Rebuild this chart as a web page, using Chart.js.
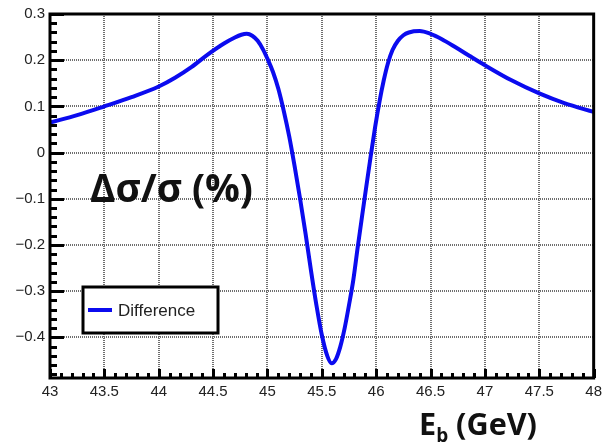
<!DOCTYPE html>
<html>
<head>
<meta charset="utf-8">
<script src="https://cdn.jsdelivr.net/npm/chart.js@4.4.1/dist/chart.umd.min.js"></script>
<style>
    html, body { margin: 0; padding: 0; background: #fff; }
    #wrap { width: 607px; height: 443px; }
</style>
</head>
<body>
<div id="wrap"><canvas id="diff-chart" width="607" height="443"></canvas></div>
<script>
// beam energy (GeV)
const energy = [43.00, 43.25, 43.50, 43.75, 44.00, 44.15, 44.30, 44.45, 44.60, 44.70, 44.76, 44.81, 44.86, 44.91,
    44.96, 45.00, 45.05, 45.10, 45.15, 45.20, 45.25, 45.30, 45.35, 45.40, 45.45, 45.50, 45.55, 45.59,
    45.63, 45.67, 45.71, 45.75, 45.79, 45.83, 45.87, 45.91, 45.95, 45.99, 46.03, 46.07, 46.11,
    46.15, 46.20, 46.25, 46.30, 46.40, 46.50, 46.60, 46.73, 46.86, 47.00, 47.24, 47.50, 47.73, 48.00];
// relative difference of the cross section (%)
const difference = [0.065, 0.081, 0.100, 0.120, 0.143, 0.162, 0.185, 0.212, 0.236, 0.249, 0.255, 0.257, 0.253, 0.242,
    0.223, 0.203, 0.175, 0.138, 0.090, 0.035, -0.030, -0.100, -0.175, -0.255, -0.330, -0.395, -0.440, -0.456,
    -0.447, -0.420, -0.380, -0.330, -0.275, -0.205, -0.138, -0.072, -0.007, 0.055, 0.110, 0.157, 0.195,
    0.222, 0.242, 0.254, 0.260, 0.263, 0.257, 0.246, 0.228, 0.209, 0.189, 0.157, 0.128, 0.107, 0.088];
const xTicks = [43, 43.5, 44, 44.5, 45, 45.5, 46, 46.5, 47, 47.5, 48];
const yTicks = [-0.4, -0.3, -0.2, -0.1, 0, 0.1, 0.2, 0.3];
const seriesName = 'Difference';
const yTitle = 'Δσ/σ (%)';

const X_MIN = 43, X_MAX = 48, Y_MIN = -0.488, Y_MAX = 0.3;
const LINE_COLOR = '#0b0bef';
const GRID_COLOR = '#6e6e6e';
const TEXT_COLOR = '#222';

function fitSize(ctx, text, font, width) {
    ctx.font = font.replace('SIZE', '100px');
    return 100 * width / ctx.measureText(text).width;
}

const decorations = {
    id: 'decorations',
    beforeDraw(chart) {
        const ctx = chart.ctx;
        ctx.save();
        ctx.fillStyle = '#fff';
        ctx.fillRect(0, 0, chart.width, chart.height);
        ctx.restore();
    },
    afterDatasetsDraw(chart) {
        const ctx = chart.ctx;
        const a = chart.chartArea;
        const xs = chart.scales.x, ys = chart.scales.y;
        ctx.save();
        ctx.strokeStyle = '#000';
        ctx.lineWidth = 3;
        ctx.lineCap = 'butt';

        // ticks on the bottom axis, pointing inward
        ctx.beginPath();
        for (let i = 0; i <= 50; i++) {
            const px = Math.round(xs.getPixelForValue(X_MIN + i * 0.1)) + 0.5;
            const len = i % 5 === 0 ? 9 : 5;
            ctx.moveTo(px, a.bottom);
            ctx.lineTo(px, a.bottom - len);
        }
        // ticks on the left axis
        for (let i = -24; i <= 15; i++) {
            const py = Math.round(ys.getPixelForValue(i * 0.02)) + 0.5;
            const len = i % 5 === 0 ? 14 : 7;
            ctx.moveTo(a.left, py);
            ctx.lineTo(a.left + len, py);
        }
        ctx.stroke();

        // frame
        ctx.lineWidth = 3;
        ctx.strokeRect(a.left, a.top, a.right - a.left, a.bottom - a.top);
        ctx.restore();
    },
    afterDraw(chart) {
        const ctx = chart.ctx;
        const ds = chart.data.datasets[0];
        ctx.save();

        // legend box
        const bx = 83, by = 287, bw = 135, bh = 46;
        ctx.fillStyle = '#fff';
        ctx.fillRect(bx, by, bw, bh);
        ctx.lineWidth = 3;
        ctx.strokeStyle = '#000';
        ctx.strokeRect(bx, by, bw, bh);
        ctx.strokeStyle = ds.borderColor;
        ctx.lineWidth = 4;
        ctx.beginPath();
        ctx.moveTo(88, by + bh / 2);
        ctx.lineTo(112, by + bh / 2);
        ctx.stroke();
        ctx.fillStyle = TEXT_COLOR;
        ctx.font = '17px "Liberation Sans", Arial, sans-serif';
        ctx.textBaseline = 'middle';
        ctx.textAlign = 'left';
        ctx.fillText(ds.label, 118, by + bh / 2 + 1);

        // y title inside the plot
        ctx.fillStyle = '#111';
        ctx.textBaseline = 'alphabetic';
        const tFont = 'bold SIZE "Open Sans", "DejaVu Sans", sans-serif';
        const ts = fitSize(ctx, yTitle, tFont, 163);
        ctx.font = tFont.replace('SIZE', ts + 'px');
        ctx.fillText(yTitle, 90, 202);

        // x title E_b (GeV)
        const xFont = 'bold SIZE "Open Sans", "DejaVu Sans", sans-serif';
        ctx.font = xFont.replace('SIZE', '100px');
        const wE = ctx.measureText('E').width;
        const wRest = ctx.measureText(' (GeV)').width;
        ctx.font = xFont.replace('SIZE', '62px');
        const wb = ctx.measureText('b').width;
        const s = 100 * 118 / (wE + wb + wRest);
        let x = 419;
        const base = 435;
        ctx.font = xFont.replace('SIZE', s + 'px');
        ctx.fillText('E', x, base);
        x += ctx.measureText('E').width;
        ctx.font = xFont.replace('SIZE', (s * 0.62) + 'px');
        ctx.fillText('b', x, base + s * 0.22);
        x += ctx.measureText('b').width;
        ctx.font = xFont.replace('SIZE', s + 'px');
        ctx.fillText(' (GeV)', x, base);
        ctx.restore();
    }
};

new Chart(document.getElementById('diff-chart').getContext('2d'), {
    type: 'line',
    plugins: [decorations],
    data: {
        datasets: [{
            label: seriesName,
            data: energy.map((e, i) => ({x: e, y: difference[i]})),
            borderColor: LINE_COLOR,
            borderWidth: 4,
            pointRadius: 0,
            fill: false,
            cubicInterpolationMode: 'monotone'
        }]
    },
    options: {
        responsive: false,
        animation: false,
        events: [],
        layout: {
            padding: {left: 0, top: 10, right: 11, bottom: 0}
        },
        plugins: {
            legend: {display: false},
            title: {display: false},
            tooltip: {enabled: false}
        },
        scales: {
            x: {
                type: 'linear',
                min: X_MIN,
                max: X_MAX,
                afterBuildTicks: (scale) => { scale.ticks = xTicks.map(v => ({value: v})); },
                afterFit: (scale) => { scale.height = 65; },
                grid: {
                    color: (c) => (c.tick && (c.tick.value === X_MIN || c.tick.value === X_MAX)) ? 'rgba(0,0,0,0)' : GRID_COLOR,
                    lineWidth: 2,
                    drawTicks: false
                },
                border: {display: false, dash: [1, 1]},
                ticks: {
                    autoSkip: false,
                    maxRotation: 0,
                    padding: 5,
                    color: TEXT_COLOR,
                    font: {family: '"Liberation Sans", Arial, sans-serif', size: 15},
                    callback: (v) => String(Math.round(v * 10) / 10)
                }
            },
            y: {
                type: 'linear',
                min: Y_MIN,
                max: Y_MAX,
                afterBuildTicks: (scale) => { scale.ticks = yTicks.map(v => ({value: v})); },
                afterFit: (scale) => { scale.width = 50; },
                grid: {
                    color: (c) => (c.tick && c.tick.value === Y_MAX) ? 'rgba(0,0,0,0)' : GRID_COLOR,
                    lineWidth: 2,
                    drawTicks: false
                },
                border: {display: false, dash: [1, 1]},
                ticks: {
                    autoSkip: false,
                    padding: 5,
                    color: TEXT_COLOR,
                    font: {family: '"Liberation Sans", Arial, sans-serif', size: 15},
                    callback: (v) => {
                        const r = Math.round(v * 10) / 10;
                        if (r === 0) return '0';
                        return (r < 0 ? '\u2212' : '') + Math.abs(r).toFixed(1);
                    }
                }
            }
        }
    }
});
</script>
</body>
</html>
